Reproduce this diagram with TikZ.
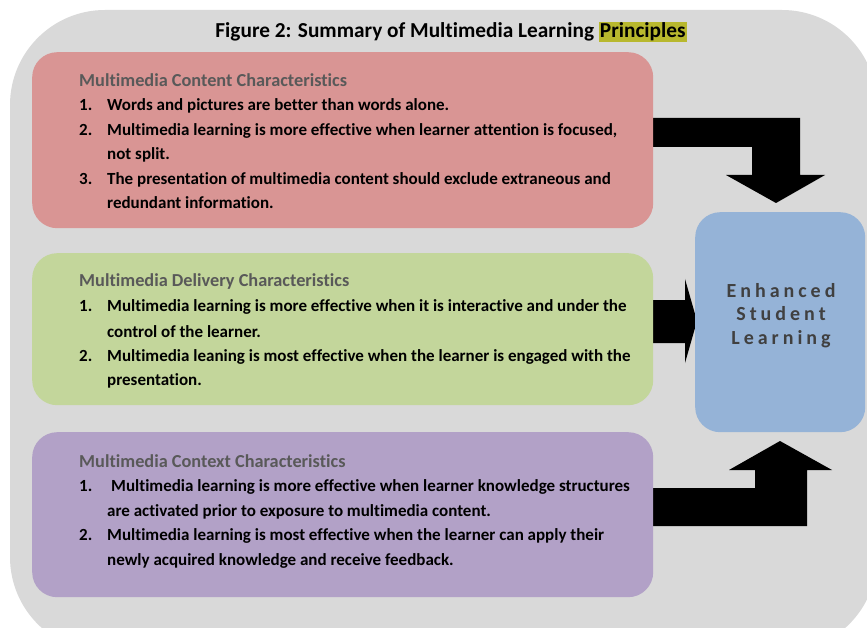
\documentclass[tikz,border=0pt]{standalone}
\usepackage{fontspec}
\setmainfont[Ligatures=NoCommon,RawFeature={-liga;-clig;-calt;-dlig}]{Carlito}
\newfontfamily\spacedfont[LetterSpace=20,Ligatures=NoCommon,RawFeature={-liga;-clig;-calt;-dlig}]{Carlito}
\definecolor{bggrey}{HTML}{D9D9D9}
\definecolor{redbox}{HTML}{D99594}
\definecolor{greenbox}{HTML}{C3D69B}
\definecolor{purplebox}{HTML}{B2A1C7}
\definecolor{bluebox}{HTML}{95B3D7}
\definecolor{headgrey}{HTML}{595959}
\definecolor{hlcol}{HTML}{B8B82E}
\definecolor{bluetext}{HTML}{404040}
\begin{document}
\begin{tikzpicture}[x=1pt,y=-1pt,
  box/.style={rounded corners=25pt, inner sep=0pt, anchor=north west, draw=none},
  head/.style={anchor=base west, inner sep=0pt, text=headgrey, font=\bfseries\fontsize{18.3}{21}\selectfont},
  item/.style={anchor=base west, inner sep=0pt, text=black, font=\bfseries\fontsize{17}{20}\selectfont},
  blockarrow/.style={fill=black, draw=none}]
\useasboundingbox (0,0) rectangle (867,628);
\clip (0,0) rectangle (867,628);
\fill[white] (0,0) rectangle (867,628);
\fill[bggrey, rounded corners=95pt] (10,10) rectangle (877,652);

% title
\node[anchor=base, inner sep=0pt, font=\bfseries\fontsize{21.3}{24}\selectfont] (title) at (451,38)
  {Figure 2: Summary of Multimedia Learning {\setlength{\fboxsep}{1pt}\colorbox{hlcol}{Principles}}};

% block arrows
\fill[blockarrow] (640,118) -- (800,118) -- (800,175) -- (825,175) -- (776,203) -- (726,175) -- (752,175) -- (752,147) -- (640,147) -- cycle;
\fill[blockarrow] (640,300) -- (685,300) -- (685,279) -- (697,321) -- (685,363) -- (685,343) -- (640,343) -- cycle;
\fill[blockarrow] (640,488) -- (755,488) -- (755,470) -- (729,470) -- (780,441) -- (832,470) -- (807,470) -- (807,526) -- (640,526) -- cycle;

% boxes
\node[box, fill=redbox, minimum width=621pt, minimum height=176pt] (red) at (32,52) {};
\node[box, fill=greenbox, minimum width=621pt, minimum height=152pt] (green) at (32,253) {};
\node[box, fill=purplebox, minimum width=621pt, minimum height=165pt] (purple) at (32,432) {};
\node[box, fill=bluebox, minimum width=170pt, minimum height=220pt] (blue) at (695,212) {};

% red text
\node[head] (rh) at (79,87) {Multimedia Content Characteristics};
\node[item] (rn1) at (79,111) {1.};
\node[item] (rt1) at (107,111) {Words and pictures are better than words alone.};
\node[item] (rn2) at (79,136) {2.};
\node[item] (rt2) at (107,136) {Multimedia learning is more effective when learner attention is focused,};
\node[item] (rt2b) at (107,160) {not split.};
\node[item] (rn3) at (79,185) {3.};
\node[item] (rt3) at (107,185) {The presentation of multimedia content should exclude extraneous and};
\node[item] (rt3b) at (107,209) {redundant information.};

% green text
\node[head] (gh) at (79,287) {Multimedia Delivery Characteristics};
\node[item] (gn1) at (79,312) {1.};
\node[item] (gt1) at (107,312) {Multimedia learning is more effective when it is interactive and under the};
\node[item] (gt1b) at (107,337) {control of the learner.};
\node[item] (gn2) at (79,361) {2.};
\node[item] (gt2) at (107,361) {Multimedia leaning is most effective when the learner is engaged with the};
\node[item] (gt2b) at (107,385) {presentation.};

% purple text
\node[head] (ph) at (79,467) {Multimedia Context Characteristics};
\node[item] (pn1) at (79,491) {1.};
\node[item] (pt1) at (111,491) {Multimedia learning is more effective when learner knowledge structures};
\node[item] (pt1b) at (107,516) {are activated prior to exposure to multimedia content.};
\node[item] (pn2) at (79,540) {2.};
\node[item] (pt2) at (107,540) {Multimedia learning is most effective when the learner can apply their};
\node[item] (pt2b) at (107,565) {newly acquired knowledge and receive feedback.};

% blue text
\node[align=center, inner sep=0pt, text=bluetext, font=\spacedfont\bfseries\fontsize{20}{23.5}\selectfont] (esl) at (781,315.5)
  {Enhanced\\Student\\Learning};
\end{tikzpicture}
\end{document}
